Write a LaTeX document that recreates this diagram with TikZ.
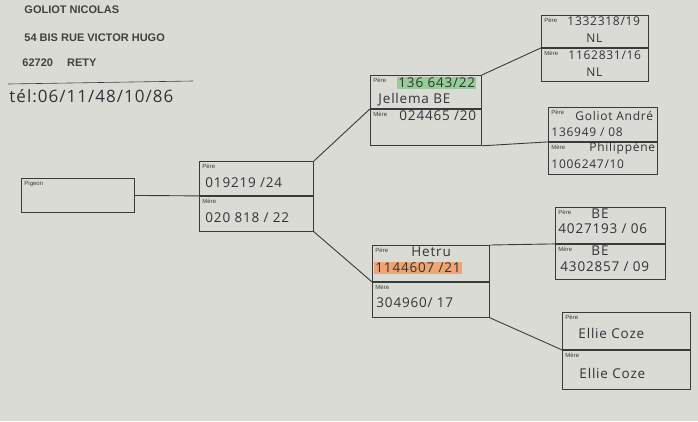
\documentclass[tikz,border=0pt]{standalone}
\usepackage{fontspec}
\setmainfont{Liberation Sans}
\newfontfamily\handfont{Open Sans}[LetterSpace=6]
\usetikzlibrary{positioning}

\definecolor{paper}{RGB}{219,219,214}
\definecolor{ink}{RGB}{58,58,58}
\definecolor{pen}{RGB}{50,50,55}
\definecolor{hlgreen}{RGB}{150,205,150}
\definecolor{hlorange}{RGB}{238,165,115}

\begin{document}
\begin{tikzpicture}[
            x = 1pt, y = -1pt, % pixel units, y going down
            line width = 0.9pt, % line style
            node distance = 0pt % halves of a box touch
        ]

        \tikzstyle{cell}=[
        draw = ink,
        rectangle,
        anchor = north west,
        inner sep = 0pt
        ]
        \tikzstyle{tag}=[
        anchor = north west,
        inner sep = 3pt,
        text = ink,
        font = \fontsize{6}{7}\selectfont
        ]
        \tikzstyle{hand}=[
        anchor = west,
        inner sep = 1pt,
        text = pen,
        font = \handfont\fontsize{13.5}{15}\selectfont
        ]
        \tikzstyle{small hand}=[
        hand,
        font = \handfont\fontsize{12}{14}\selectfont
        ]
        \tikzstyle{print}=[
        anchor = west,
        inner sep = 0pt,
        text = black!75,
        font = \fontsize{11}{13}\selectfont\bfseries
        ]

        \useasboundingbox[fill = paper] (0,0) rectangle (698,421);

        % owner
        \node[print] (name) at (24,10) {GOLIOT NICOLAS};
        \node[print] (street) at (24,38) {54 BIS RUE VICTOR HUGO};
        \node[print] (town) at (22,63) {62720\quad\ RETY};
        \draw[ink, line width = 0.6pt] (8,84) -- (193,81);
        \node[hand, font = \handfont\fontsize{17}{19}\selectfont] (tel) at (8,96) {tél:06/11/48/10/86};

        % boxes
        \node (pig) [cell, minimum width = 113pt, minimum height = 34pt] at (21,178) {};
        \node (p) [cell, minimum width = 114pt, minimum height = 34pt] at (199,161) {};
        \node (m) [cell, minimum width = 114pt, minimum height = 35pt, below=of p] {};
        \node (pp) [cell, minimum width = 111pt, minimum height = 33pt] at (370,75) {};
        \node (pm) [cell, minimum width = 111pt, minimum height = 36pt, below=of pp] {};
        \node (mp) [cell, minimum width = 117pt, minimum height = 36pt] at (372,245) {};
        \node (mm) [cell, minimum width = 117pt, minimum height = 35pt, below=of mp] {};
        \node (ppp) [cell, minimum width = 107pt, minimum height = 32pt] at (541,15) {};
        \node (ppm) [cell, minimum width = 107pt, minimum height = 33pt, below=of ppp] {};
        \node (pmp) [cell, minimum width = 109pt, minimum height = 34pt] at (548,107) {};
        \node (pmm) [cell, minimum width = 109pt, minimum height = 32pt, below=of pmp] {};
        \node (mpp) [cell, minimum width = 110pt, minimum height = 36pt] at (555,207) {};
        \node (mpm) [cell, minimum width = 110pt, minimum height = 35pt, below=of mpp] {};
        \node (mmp) [cell, minimum width = 128pt, minimum height = 37pt] at (562,312) {};
        \node (mmm) [cell, minimum width = 128pt, minimum height = 39pt, below=of mmp] {};

        % small printed labels
        \node[tag] at (pig.north west) {Pigeon};
        \foreach \n in {p,pp,mp,ppp,pmp,mpp,mmp}
            \node[tag] at (\n.north west) {Père};
        \foreach \n in {m,pm,mm,ppm,pmm,mpm,mmm}
            \node[tag] at (\n.north west) {Mère};

        % handwriting
        \node[hand] at (204,183) {019219 /24};
        \node[hand] at (204,218) {020 818 / 22};
        \node[hand, fill = hlgreen] at (397,83) {136 643/22};
        \node[hand] at (377,100) {Jellema BE};
        \node[hand] at (398,116) {024465 /20};
        \node[small hand] at (566,21) {1332318/19};
        \node[small hand] at (585,38) {NL};
        \node[small hand] at (567,55) {1162831/16};
        \node[small hand] at (585,72) {NL};
        \node[small hand] at (574,116) {Goliot André};
        \node[small hand] at (550,132) {136949 / 08};
        \node[small hand] at (588,148) {Philippène};
        \node[small hand] at (550,164) {1006247/10};
        \node[hand] at (590,214) {BE};
        \node[hand] at (557,229) {4027193 / 06};
        \node[hand] at (590,251) {BE};
        \node[hand] at (559,267) {4302857 / 09};
        \node[hand] at (410,252) {Hetru};
        \node[hand, fill = hlorange] at (374,268) {1144607 /21};
        \node[hand] at (375,303) {304960/ 17};
        \node[hand] at (577,333) {Ellie Coze};
        \node[hand] at (578,373) {Ellie Coze};

        % links
        \draw[ink] (pig.east) -- (p.south west);
        \draw[ink] (p.north east) -- (pp.south west);
        \draw[ink] (m.south east) -- (mp.south west);
        \draw[ink] (pp.north east) -- (ppp.south west);
        \draw[ink] (pm.south east) -- (pmp.south west);
        \draw[ink] (mp.north east) -- (mpp.south west);
        \draw[ink] (mm.south east) -- (mmp.south west);
    \end{tikzpicture}
\end{document}
